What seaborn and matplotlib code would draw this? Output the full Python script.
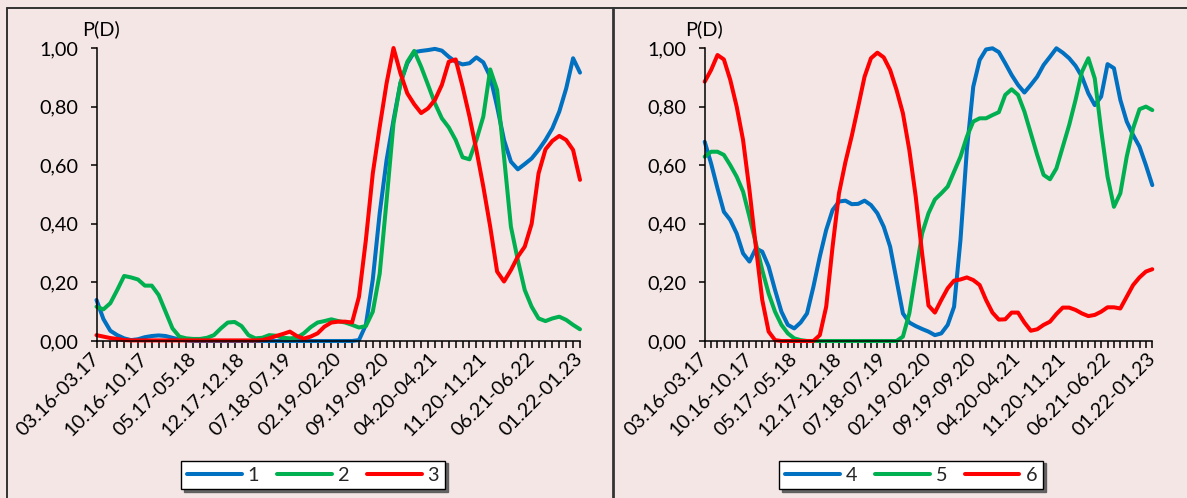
import numpy as np
import pandas as pd
import matplotlib
matplotlib.use("Agg")
import matplotlib.pyplot as plt
import seaborn as sns
from matplotlib.lines import Line2D

# ---------------- data ----------------
tick_labels = ["03.16-03.17", "10.16-10.17", "05.17-05.18", "12.17-12.18",
               "07.18-07.19", "02.19-02.20", "09.19-09.20", "04.20-04.21",
               "11.20-11.21", "06.21-06.22", "01.22-01.23"]
n_points = 71
ytick_values = [0.0, 0.2, 0.4, 0.6, 0.8, 1.0]
ytick_labels = ["0,00", "0,20", "0,40", "0,60", "0,80", "1,00"]

series_1 = [0.14, 0.075, 0.035, 0.02, 0.009, 0.003, 0.006, 0.013, 0.017, 0.019,
            0.017, 0.011, 0.005, 0.002, 0.0, 0.0, 0.0, 0.0, 0.0, 0.0,
            0.0, 0.0, 0.0, 0.0, 0.0, 0.0, 0.0, 0.0, 0.0, 0.0,
            0.0, 0.0, 0.0, 0.0, 0.0, 0.0, 0.0, 0.0, 0.003, 0.055,
            0.21, 0.436, 0.618, 0.754, 0.88, 0.948, 0.986, 0.99, 0.993, 0.997,
            0.991, 0.97, 0.953, 0.944, 0.948, 0.968, 0.951, 0.902, 0.80, 0.686,
            0.612, 0.586, 0.604, 0.623, 0.652, 0.686, 0.726, 0.783, 0.862, 0.965,
            0.916]
series_2 = [0.117, 0.108, 0.129, 0.174, 0.222, 0.217, 0.21, 0.189, 0.189, 0.157,
            0.10, 0.043, 0.015, 0.009, 0.007, 0.007, 0.011, 0.02, 0.043, 0.063,
            0.065, 0.051, 0.02, 0.009, 0.011, 0.02, 0.018, 0.011, 0.009, 0.011,
            0.026, 0.047, 0.063, 0.068, 0.074, 0.068, 0.063, 0.055, 0.046, 0.051,
            0.10, 0.23, 0.48, 0.743, 0.88, 0.953, 0.99, 0.936, 0.874, 0.811,
            0.76, 0.729, 0.686, 0.627, 0.62, 0.686, 0.766, 0.927, 0.857, 0.629,
            0.39, 0.276, 0.174, 0.117, 0.077, 0.068, 0.077, 0.083, 0.072, 0.055,
            0.04]
series_3 = [0.02, 0.015, 0.01, 0.007, 0.003, 0.002, 0.002, 0.002, 0.002, 0.002,
            0.002, 0.002, 0.002, 0.002, 0.002, 0.002, 0.002, 0.002, 0.002, 0.002,
            0.002, 0.002, 0.002, 0.002, 0.003, 0.009, 0.017, 0.024, 0.032, 0.017,
            0.008, 0.015, 0.026, 0.049, 0.063, 0.066, 0.066, 0.063, 0.151, 0.345,
            0.572, 0.731, 0.88, 1.0, 0.914, 0.845, 0.808, 0.778, 0.794, 0.823,
            0.874, 0.953, 0.961, 0.868, 0.766, 0.652, 0.527, 0.39, 0.237, 0.203,
            0.242, 0.288, 0.322, 0.40, 0.572, 0.654, 0.683, 0.70, 0.686, 0.652,
            0.55]
series_4 = [0.68, 0.606, 0.521, 0.441, 0.413, 0.367, 0.299, 0.271, 0.316, 0.305,
            0.254, 0.174, 0.10, 0.055, 0.043, 0.063, 0.094, 0.185, 0.288, 0.379,
            0.447, 0.476, 0.479, 0.467, 0.468, 0.479, 0.464, 0.436, 0.39, 0.322,
            0.208, 0.094, 0.063, 0.051, 0.041, 0.032, 0.02, 0.026, 0.055, 0.117,
            0.345, 0.652, 0.868, 0.959, 0.995, 0.999, 0.986, 0.948, 0.908, 0.874,
            0.848, 0.874, 0.902, 0.942, 0.97, 0.999, 0.984, 0.965, 0.939, 0.902,
            0.845, 0.805, 0.834, 0.945, 0.931, 0.823, 0.749, 0.703, 0.663, 0.60,
            0.532]
series_5 = [0.629, 0.646, 0.646, 0.635, 0.60, 0.561, 0.51, 0.424, 0.333, 0.242,
            0.162, 0.10, 0.055, 0.026, 0.009, 0.003, 0.0, 0.0, 0.0, 0.0,
            0.0, 0.0, 0.0, 0.0, 0.0, 0.0, 0.0, 0.0, 0.0, 0.0,
            0.0, 0.015, 0.094, 0.23, 0.367, 0.436, 0.483, 0.504, 0.527, 0.578,
            0.629, 0.697, 0.749, 0.76, 0.76, 0.771, 0.781, 0.84, 0.859, 0.84,
            0.783, 0.709, 0.635, 0.567, 0.552, 0.589, 0.663, 0.737, 0.823, 0.919,
            0.965, 0.896, 0.72, 0.561, 0.458, 0.504, 0.629, 0.726, 0.791, 0.80,
            0.788]
series_6 = [0.885, 0.925, 0.976, 0.961, 0.891, 0.80, 0.686, 0.515, 0.322, 0.14,
            0.032, 0.003, 0.0, 0.0, 0.0, 0.0, 0.0, 0.0, 0.02, 0.117,
            0.322, 0.504, 0.61, 0.70, 0.80, 0.902, 0.965, 0.984, 0.968, 0.925,
            0.857, 0.777, 0.652, 0.493, 0.299, 0.121, 0.097, 0.14, 0.18, 0.206,
            0.21, 0.217, 0.208, 0.191, 0.14, 0.097, 0.073, 0.074, 0.097, 0.097,
            0.063, 0.035, 0.04, 0.055, 0.066, 0.092, 0.114, 0.114, 0.106, 0.094,
            0.085, 0.089, 0.10, 0.115, 0.115, 0.111, 0.151, 0.191, 0.217, 0.237,
            0.245]

left_names = ["1", "2", "3"]
right_names = ["4", "5", "6"]
colors = ["#0070C0", "#00B050", "#FF0000"]

# ---------------- style ----------------
sns.set_theme(style="ticks")
plt.rcParams['font.family'] = ['Lato', 'DejaVu Sans']
BG = "#F5E6E6"

W, H = 1187, 498
fig = plt.figure(figsize=(W / 100, H / 100), dpi=100, facecolor=BG)


def box(x0, x1, ytop, ybot):
    return [x0 / W, 1 - ybot / H, (x1 - x0) / W, (ybot - ytop) / H]


def long_frame(names, arrays):
    idx = np.arange(n_points)
    return pd.concat([pd.DataFrame({"idx": idx, "value": arr, "series": nm})
                      for nm, arr in zip(names, arrays)], ignore_index=True)


FS = 14.3


def draw_panel(ax, names, arrays, ylabel_x, legend_cx):
    df = long_frame(names, arrays)
    sns.lineplot(data=df, x="idx", y="value", hue="series", hue_order=names,
                 palette=dict(zip(names, colors)), linewidth=2.9, ax=ax,
                 legend=False)
    for ln in ax.get_lines():
        ln.set_clip_on(False)
        ln.set_solid_joinstyle("round")
    ax.set_facecolor(BG)
    ax.set_xlim(0, n_points - 1)
    ax.set_ylim(0, 1)
    ax.set_xlabel("")
    ax.set_ylabel("")
    for s in ["top", "right"]:
        ax.spines[s].set_visible(False)
    for s in ["left", "bottom"]:
        ax.spines[s].set_linewidth(1.1)
        ax.spines[s].set_color("black")
    ax.set_yticks(ytick_values)
    ax.set_yticklabels(ytick_labels, fontsize=FS)
    xt = list(range(n_points))
    labs = [tick_labels[i // 7] if i % 7 == 0 else "" for i in xt]
    ax.set_xticks(xt)
    ax.set_xticklabels(labs, fontsize=FS, rotation=45, ha="right",
                       va="center", rotation_mode="anchor")
    ax.tick_params(axis="y", direction="out", length=4.3, width=1.1,
                   pad=9.0, colors="black")
    ax.tick_params(axis="x", direction="out", length=4.8, width=1.1,
                   pad=6, colors="black")
    fig.text(ylabel_x / W, 1 - 29 / H, "P(D)", fontsize=FS, ha="left",
             va="center", color="black")
    handles = [Line2D([0], [0], color=c, lw=2.9) for c in colors]
    leg = ax.legend(handles, names, loc="center", ncol=3,
                    bbox_to_anchor=(legend_cx / W, 1 - 475 / H),
                    bbox_transform=fig.transFigure, fontsize=FS,
                    frameon=True, fancybox=False,
                    shadow={"color": "0.35", "alpha": 0.9},
                    handlelength=2.75, handletextpad=0.3, columnspacing=0.9,
                    borderpad=0.3)
    fr = leg.get_frame()
    fr.set_facecolor("white")
    fr.set_edgecolor("black")
    fr.set_linewidth(1.0)
    fr.set_alpha(1)


ax1 = fig.add_axes(box(96.5, 580, 48, 341))
ax2 = fig.add_axes(box(704.7, 1152.3, 48, 341))
draw_panel(ax1, left_names, [series_1, series_2, series_3], 82, 313)
draw_panel(ax2, right_names, [series_4, series_5, series_6], 685, 911)

# outer frame lines
fc = "#333333"
top_y = 1 - 8 / H
fig.add_artist(Line2D([7 / W, 7 / W], [0, top_y], color=fc, lw=1.4, transform=fig.transFigure))
fig.add_artist(Line2D([7 / W, 1], [top_y, top_y], color=fc, lw=1.4, transform=fig.transFigure))
fig.add_artist(Line2D([613 / W, 613 / W], [0, top_y], color=fc, lw=2.0, transform=fig.transFigure))

fig.savefig("out.png", dpi=100, facecolor=BG)
